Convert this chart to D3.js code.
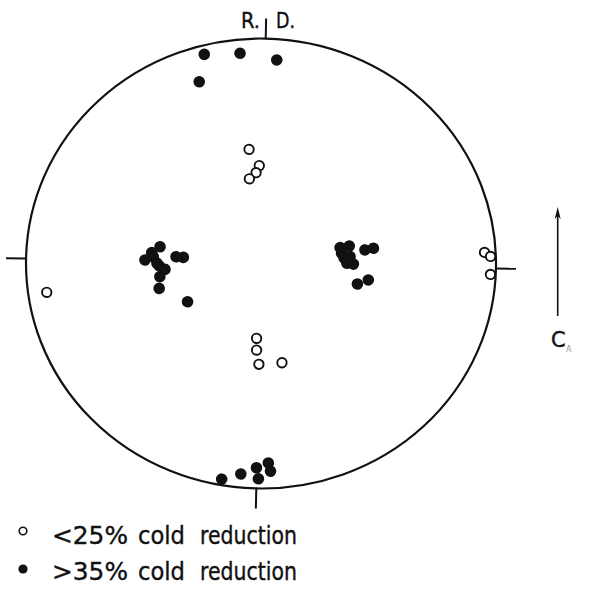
<!DOCTYPE html>
<html>
<head>
<meta charset="utf-8">
<script src="https://cdn.jsdelivr.net/npm/d3@7"></script>
<style>
  html, body { margin: 0; padding: 0; background: #fff; }
  svg { display: block; }
  text { font-family: "DejaVu Sans", sans-serif; fill: #111; stroke: #111; stroke-width: 0.4; }
</style>
</head>
<body>
<svg id="chart" width="599" height="595"></svg>
<script>
// Pole positions in projection coordinates (unit circle, +y toward R.D.)
const openPoles = [
  [-0.061, 0.506], [-0.016, 0.435], [-0.029, 0.403], [-0.057, 0.375],
  [0.950, 0.070], [0.976, 0.053], [0.977, -0.027],
  [-0.909, -0.148],
  [-0.012, -0.333], [-0.011, -0.385], [0.000, -0.448], [0.098, -0.439]
];
const filledPoles = [
  [-0.260, 0.924], [-0.108, 0.932], [0.049, 0.906], [-0.279, 0.802],
  [-0.431, 0.065], [-0.466, 0.038], [-0.494, 0.005], [-0.459, 0.020],
  [-0.443, -0.008], [-0.432, -0.021], [-0.408, -0.035], [-0.429, -0.068],
  [-0.431, -0.120], [-0.362, 0.022], [-0.331, 0.020], [-0.309, -0.177],
  [0.335, 0.078], [0.374, 0.086], [0.342, 0.053], [0.378, 0.039],
  [0.353, 0.032], [0.365, 0.009], [0.393, 0.006], [0.441, 0.070],
  [0.477, 0.078], [0.412, -0.082], [0.458, -0.063],
  [-0.148, -0.962], [-0.067, -0.937], [-0.001, -0.908], [0.008, -0.957],
  [0.049, -0.886], [0.059, -0.922]
];
const axisTicks = [[1, 0], [-1, 0], [0, 1], [0, -1]];
const legendSymbols = ["open", "filled"];
const legendLabels = [["<25%", "cold", "reduction"], [">35%", "cold", "reduction"]];
const topLabels = ["R.", "D."];
const arrowLabel = "C";
const arrowSub = "A";

const svg = d3.select("#chart");

const x = d3.scaleLinear().domain([-1, 1]).range([-235, 235]);
const y = d3.scaleLinear().domain([-1, 1]).range([225, -225]);

const g = svg.append("g").attr("transform", "translate(261,263.5) rotate(1.2)");

// primitive circle of the projection
g.append("ellipse")
  .attr("cx", x(0)).attr("cy", y(0))
  .attr("rx", x(1) - x(0)).attr("ry", y(-1) - y(0))
  .attr("fill", "none").attr("stroke", "#111").attr("stroke-width", 2.2);

// reference ticks outside the circle
const tickLen = 20;
g.selectAll("line.tick").data(axisTicks).join("line")
  .attr("class", "tick")
  .attr("x1", d => x(d[0])).attr("y1", d => y(d[1]))
  .attr("x2", d => x(d[0]) + d[0] * tickLen)
  .attr("y2", d => y(d[1]) - d[1] * tickLen)
  .attr("stroke", "#111").attr("stroke-width", 2);

// poles
g.selectAll("circle.open").data(openPoles).join("circle")
  .attr("class", "open")
  .attr("cx", d => x(d[0])).attr("cy", d => y(d[1]))
  .attr("r", 4.7)
  .attr("fill", "#fff").attr("stroke", "#111").attr("stroke-width", 1.9);

g.selectAll("circle.filled").data(filledPoles).join("circle")
  .attr("class", "filled")
  .attr("cx", d => x(d[0])).attr("cy", d => y(d[1]))
  .attr("r", 5.8)
  .attr("fill", "#111");

// R.D. label around the top tick
svg.append("text").attr("x", 241).attr("y", 28).attr("font-size", 21)
  .attr("textLength", 19).attr("lengthAdjust", "spacingAndGlyphs").text(topLabels[0]);
svg.append("text").attr("x", 276).attr("y", 28).attr("font-size", 21)
  .attr("textLength", 19).attr("lengthAdjust", "spacingAndGlyphs").text(topLabels[1]);

// c-axis arrow
const arrowX = 557.7;
svg.append("line")
  .attr("x1", arrowX).attr("y1", 316).attr("x2", arrowX).attr("y2", 214)
  .attr("stroke", "#111").attr("stroke-width", 1.6);
svg.append("path")
  .attr("d", `M${arrowX},207 L${arrowX - 3},219 L${arrowX},216 L${arrowX + 3},219 Z`)
  .attr("fill", "#111");
svg.append("text").attr("x", 551).attr("y", 347).attr("font-size", 21).text(arrowLabel);
svg.append("text").attr("x", 566).attr("y", 352).attr("font-size", 8)
  .style("fill", "#999").style("stroke", "none").text(arrowSub);

// legend
const legendRows = [531, 569];
const baselines = [544, 580];
const wordX = [52, 138, 200];
const wordW = [76, 47, 97];
legendSymbols.forEach((s, i) => {
  svg.append("circle")
    .attr("cx", 23).attr("cy", legendRows[i]).attr("r", s === "open" ? 3.8 : 4.6)
    .attr("fill", s === "open" ? "#fff" : "#111")
    .attr("stroke", "#111").attr("stroke-width", s === "open" ? 1.6 : 0);
  legendLabels[i].forEach((w, j) => {
    svg.append("text")
      .attr("x", wordX[j]).attr("y", baselines[i])
      .attr("font-size", 25)
      .attr("textLength", wordW[j]).attr("lengthAdjust", "spacingAndGlyphs")
      .text(w);
  });
});
</script>
</body>
</html>
